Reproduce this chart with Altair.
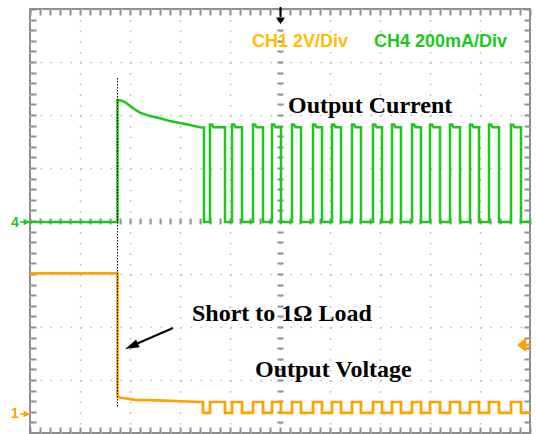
import altair as alt
import pandas as pd

# Screen: 10 horizontal divisions (time) x 8 vertical divisions.
# CH4 (current) zero sits at the "4" marker, CH1 (voltage) zero at the "1" marker.
CUR_ZERO_DIV = 3.98
CUR_MA_PER_DIV = 200.0
VOLT_ZERO_DIV = 0.36
VOLT_V_PER_DIV = 2.0

trigger_t = 1.75

# CH4 output current (mA): inrush after the short, decaying until hiccup starts
decay_t = [1.75, 1.84, 1.92, 2.0, 2.1, 2.2, 2.4, 2.6, 2.8, 3.0, 3.2, 3.4, 3.48]
decay_ma = [460, 458, 450, 438, 425, 413, 400, 392, 381, 374, 366, 358, 356]

# hiccup pulses (rise, fall) in divisions
pulse_rise = [3.60, 4.04, 4.46, 4.84, 5.24, 5.66, 6.04, 6.44, 6.86, 7.24,
              7.64, 8.00, 8.40, 8.80, 9.18, 9.62]
pulse_fall = [3.90, 4.24, 4.66, 5.02, 5.42, 5.84, 6.22, 6.62, 7.04, 7.42,
              7.82, 8.20, 8.60, 8.98, 9.38, 9.82]
pulse_peak_ma = 368
pulse_flat_ma = 358

# CH1 output voltage (V)
v_before = 5.3
v_decay_t = [1.75, 1.80, 2.1, 2.7, 3.4, 3.46]
v_decay_v = [0.64, 0.62, 0.53, 0.50, 0.45, 0.45]
v_pulse_hi = 0.45
v_pulse_lo = 0.04

GREEN = "#1DC81D"
ORANGE = "#FFA200"
LABEL_ORANGE = "#FFBF00"
FRAME = "#8e8e8e"
DOTS = "#bdbdbd"


def current_rows():
    pts = [(0.0, 0.0), (trigger_t, 0.0)]
    pts += list(zip(decay_t, decay_ma))
    pts.append((decay_t[-1], 0.0))
    for r, f in zip(pulse_rise, pulse_fall):
        pts += [(r, 0.0), (r, pulse_peak_ma), (r + 0.04, pulse_peak_ma),
                (r + 0.07, pulse_flat_ma), (f, pulse_flat_ma), (f, 0.0)]
    pts.append((10.0, 0.0))
    return pd.DataFrame({
        "t": [p[0] for p in pts],
        "y": [CUR_ZERO_DIV + p[1] / CUR_MA_PER_DIV for p in pts],
        "i": range(len(pts)),
    })


def voltage_rows():
    pts = [(0.0, v_before), (trigger_t, v_before)]
    pts += list(zip(v_decay_t, v_decay_v))
    pts.append((v_decay_t[-1], v_pulse_lo))
    for r, f in zip(pulse_rise, pulse_fall):
        pts += [(r, v_pulse_lo), (r, v_pulse_hi), (f, v_pulse_hi), (f, v_pulse_lo)]
    pts.append((10.0, v_pulse_lo))
    return pd.DataFrame({
        "t": [p[0] for p in pts],
        "y": [VOLT_ZERO_DIV + p[1] / VOLT_V_PER_DIV for p in pts],
        "i": range(len(pts)),
    })


cur = current_rows()
volt = voltage_rows()

W, H = 500, 424
xs = alt.Scale(domain=[0, 10], nice=False, zero=False)
ys = alt.Scale(domain=[0, 8], nice=False, zero=False)


def tick_axis(orient, offset, count, size):
    return alt.Axis(orient=orient, offset=offset, tickCount=count, labels=False,
                    domain=False, grid=False, ticks=True, tickColor=FRAME,
                    tickWidth=2, tickSize=size, title=None)


def trace(data, mark, xaxis=None, yaxis=None):
    return alt.Chart(data).mark_line(**mark).encode(
        x=alt.X("t:Q", scale=xs, axis=xaxis),
        y=alt.Y("y:Q", scale=ys, axis=yaxis),
        order="i:Q",
    )


HIDDEN = dict(strokeOpacity=0)

# minor-division ticks: top edge, bottom edge, centre line (x) ...
x_ticks = [
    trace(cur, HIDDEN, xaxis=tick_axis("bottom", -H, 50, 6)),
    trace(cur, HIDDEN, xaxis=tick_axis("top", -H, 50, 6)),
    trace(cur, HIDDEN, xaxis=tick_axis("top", -H / 2, 50, 3)),
    trace(cur, HIDDEN, xaxis=tick_axis("bottom", -H / 2, 50, 3)),
]
# ... and left edge, right edge, centre line (y)
y_ticks = [
    trace(cur, HIDDEN, yaxis=tick_axis("right", -W, 40, 6)),
    trace(cur, HIDDEN, yaxis=tick_axis("left", -W, 40, 6)),
    trace(cur, HIDDEN, yaxis=tick_axis("left", -W / 2, 40, 3)),
    trace(cur, HIDDEN, yaxis=tick_axis("right", -W / 2, 40, 3)),
]

# dotted graticule
grid = trace(
    cur, HIDDEN,
    alt.Axis(orient="bottom", tickCount=10, labels=False, domain=False, ticks=False,
             grid=True, gridColor=DOTS, gridWidth=1.6, gridDash=[1.6, 9.0], title=None),
    alt.Axis(orient="left", tickCount=8, labels=False, domain=False, ticks=False,
             grid=True, gridColor=DOTS, gridWidth=1.6, gridDash=[1.6, 8.4], title=None))

green = trace(cur, dict(color=GREEN, strokeWidth=2.5, clip=True))
orange = trace(volt, dict(color=ORANGE, strokeWidth=2.7, clip=True))

trig = alt.Chart(pd.DataFrame({"t": [trigger_t]})).mark_rule(
    color="black", strokeWidth=1, strokeDash=[1.5, 1.5]
).encode(x=alt.X("t:Q", scale=xs, axis=None), y=alt.value(69), y2=alt.value(398))

base = alt.Chart(pd.DataFrame({"k": [0]}))


def label(text, x, y, color, size, font, align="left", baseline="alphabetic"):
    return base.mark_text(text=text, color=color, fontSize=size, font=font,
                          fontWeight="bold", align=align, baseline=baseline).encode(
        x=alt.value(x), y=alt.value(y))


texts = [
    label("CH1 2V/Div", 222, 38, LABEL_ORANGE, 18, "Liberation Sans"),
    label("CH4 200mA/Div", 344, 38, GREEN, 18, "Liberation Sans"),
    label("Output Current", 258, 104, "black", 24, "Liberation Serif"),
    label("Short to 1Ω Load", 162, 312, "black", 24, "Liberation Serif"),
    label("Output Voltage", 225, 368, "black", 24, "Liberation Serif"),
    label("4", -19, 214, GREEN, 14, "Liberation Sans", baseline="middle"),
    label("1", -19, 405, ORANGE, 14, "Liberation Sans", baseline="middle"),
]

ARROW_HEAD = "M0,-1L0.6,1L-0.6,1Z"
POINT_RIGHT = "M1,0L-0.6,-0.8L-0.6,0.8Z"
POINT_LEFT = "M-1,0L0.3,-1L0.3,1Z"
POINT_DOWN = "M0,1L-0.9,-0.3L0.9,-0.3Z"


def glyph(path, color, size, x, y):
    return base.mark_point(shape=path, filled=True, color=color, size=size,
                           opacity=1, strokeWidth=0).encode(x=alt.value(x), y=alt.value(y))


def stub(color, width, **enc):
    return base.mark_rule(color=color, strokeWidth=width).encode(
        **{k: alt.value(v) for k, v in enc.items()})


markers = [
    glyph(POINT_RIGHT, GREEN, 64, -4, 213),
    stub(GREEN, 1.5, x=-10, x2=0, y=213),
    glyph(POINT_RIGHT, ORANGE, 64, -4, 405),
    stub(ORANGE, 1.5, x=-10, x2=0, y=405),
    glyph(POINT_LEFT, ORANGE, 200, 494, 336),
    stub(ORANGE, 3, x=494, x2=500, y=336),
    stub("black", 2, x=250.5, y=-2, y2=8),
    glyph(POINT_DOWN, "black", 100, 250.5, 10),
    stub("black", 2, x=143, y=319, x2=105, y2=335.5),
    base.mark_point(shape=ARROW_HEAD, filled=True, color="black", size=196, opacity=1,
                    strokeWidth=0, angle=246).encode(x=alt.value(101.5), y=alt.value(337.2)),
]

chart = alt.layer(
    grid, *x_ticks, *y_ticks, green, orange, trig, *texts, *markers
).resolve_axis(x="independent", y="independent").properties(
    width=W, height=H,
    autosize=alt.AutoSizeParams(type="none"),
    padding={"left": 30, "top": 9, "right": 6, "bottom": 1},
    background="white",
).configure_view(stroke=FRAME, strokeWidth=2)

chart.save("out.html", embed_options={"renderer": "svg", "actions": False})
